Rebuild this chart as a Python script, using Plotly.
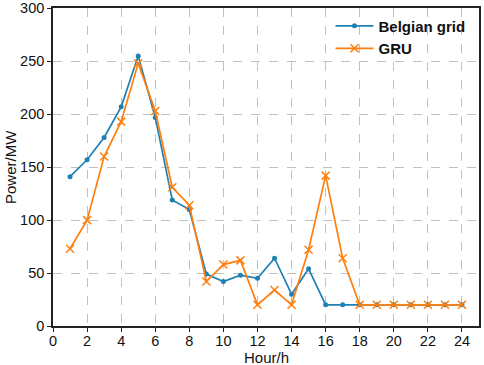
import plotly.graph_objects as go

hours = list(range(1, 25))
belgian_grid = [141, 157, 178, 207, 255, 197, 119, 110, 49, 42, 48, 45, 64, 30, 54,
                 20, 20, 20, 20, 20, 20, 20, 20, 20]
gru = [73, 100, 160, 193, 248, 203, 131, 114, 42, 58, 62, 20, 34, 20, 72,
       142, 64, 20, 20, 20, 20, 20, 20, 20]
x_ticks = list(range(0, 25, 2))
y_ticks = list(range(0, 301, 50))
x_title = "Hour/h"
y_title = "Power/MW"

BLUE = "#1f80b4"
ORANGE = "#ff7f0e"
FONT = "Liberation Sans, Arial"

fig = go.Figure()
fig.add_trace(go.Scatter(
    x=hours, y=belgian_grid, name="Belgian grid", mode="lines+markers",
    line=dict(color=BLUE, width=1.7),
    marker=dict(symbol="circle", size=5, color=BLUE),
))
fig.add_trace(go.Scatter(
    x=hours, y=gru, name="GRU", mode="lines+markers",
    line=dict(color=ORANGE, width=1.7),
    marker=dict(symbol="x-thin", size=8, color=ORANGE, line=dict(color=ORANGE, width=1.5)),
))

axis_common = dict(
    showline=True, linecolor="#222222", linewidth=1.6, mirror=True,
    ticks="outside", ticklen=4, tickcolor="#222222", tickwidth=1,
    showgrid=True, gridcolor="#c0c0c0", griddash="dash", gridwidth=1,
    zeroline=False, automargin=False,
    tickfont=dict(family=FONT, size=14.5, color="#111111"),
)

fig.update_xaxes(range=[0, 25], tickvals=x_ticks, ticklabelstandoff=-3, **axis_common)
fig.update_yaxes(range=[0, 300.3], tickvals=y_ticks, ticklabeloverflow="allow", **axis_common)

title_font = dict(family=FONT, size=15, color="#111111")
fig.add_annotation(text=x_title, xref="paper", yref="paper", x=0.5, y=0,
                   xanchor="center", yanchor="top", yshift=-22, borderpad=0,
                   showarrow=False, font=title_font)
fig.add_annotation(text=y_title, xref="paper", yref="paper", x=0, y=0.5,
                   xanchor="center", yanchor="middle", xshift=-43, textangle=-90,
                   borderpad=0, showarrow=False, font=title_font)

fig.update_layout(
    width=484, height=365,
    margin=dict(l=53, r=5, t=8, b=39),
    paper_bgcolor="white", plot_bgcolor="white",
    showlegend=True,
    legend=dict(
        x=0.98, y=0.995, xanchor="right", yanchor="top",
        bgcolor="rgba(255,255,255,0)",
        font=dict(family=FONT, size=15, color="#111111", weight="bold"),
        itemwidth=38, tracegroupgap=0,
    ),
)

fig.write_html("out.html", config={"displayModeBar": False},
               post_script="document.body.style.margin='0';document.body.style.overflow='hidden';")
